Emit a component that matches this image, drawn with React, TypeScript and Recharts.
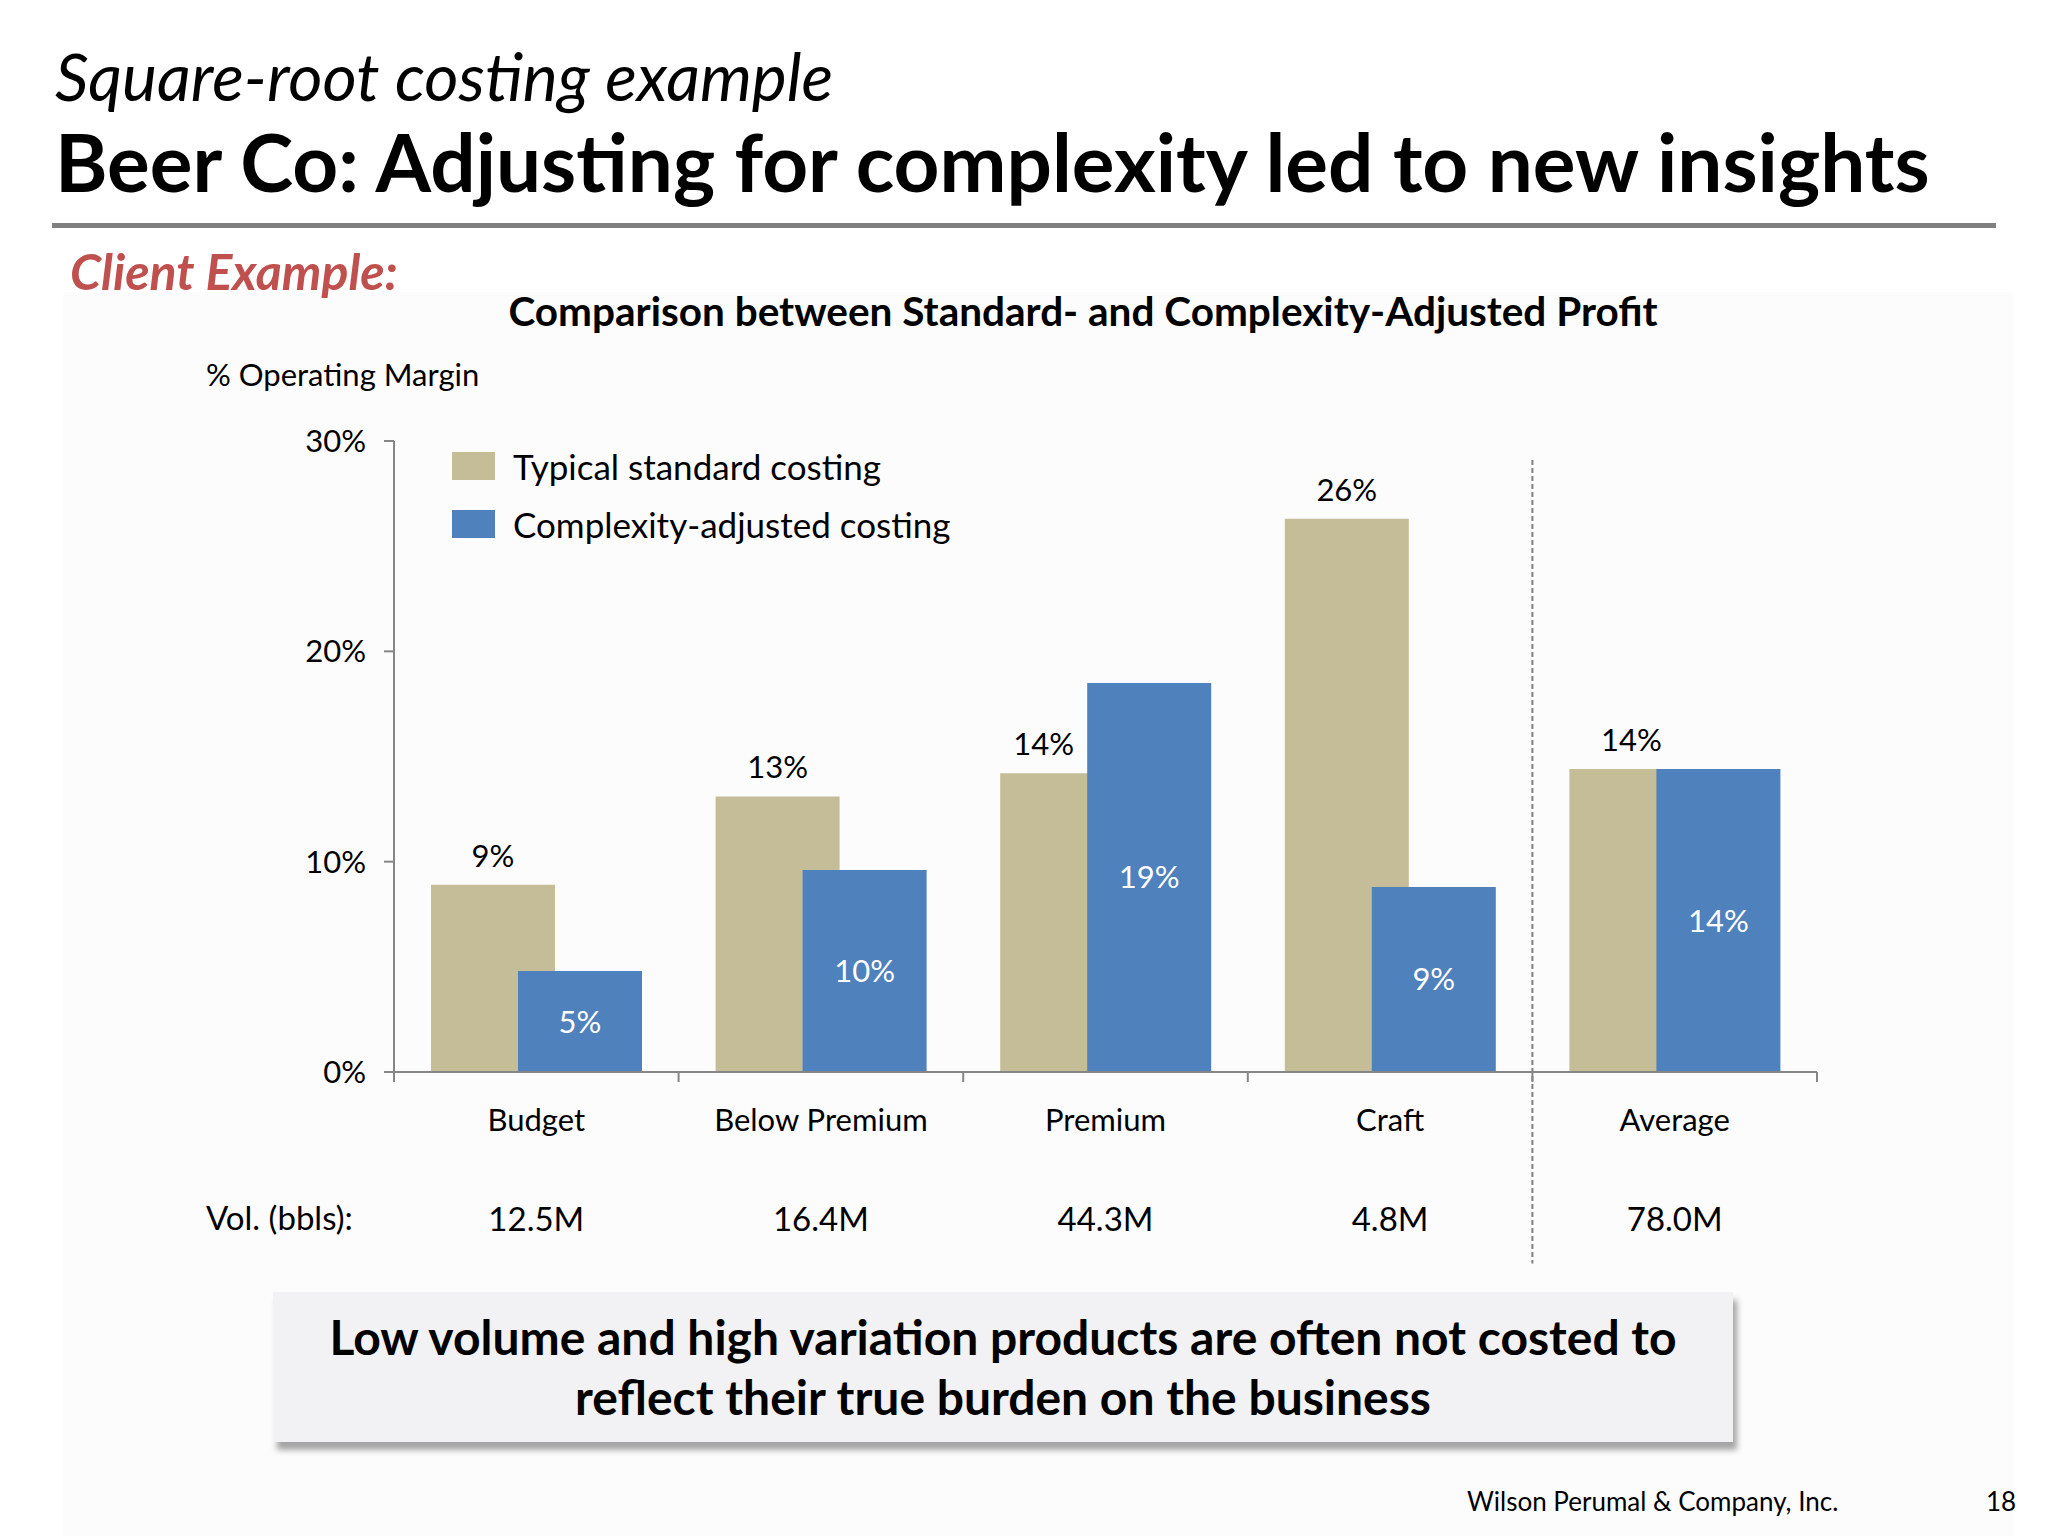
import { BarChart, Bar, XAxis, YAxis, LabelList, Legend, ReferenceLine } from "recharts";

const categories = ["Budget", "Below Premium", "Premium", "Craft", "Average"];
const standardMargin = [8.9, 13.1, 14.2, 26.3, 14.4];
const adjustedMargin = [4.8, 9.6, 18.5, 8.8, 14.4];
const volumes = ["12.5M", "16.4M", "44.3M", "4.8M", "78.0M"];
const yTicks = [0, 10, 20, 30];

const TAN = "#C4BD97";
const BLUE = "#4F81BD";
const AXIS = "#868686";
const FONT = "Lato, 'Open Sans', sans-serif";

// plot area in page pixels
const PLOT_LEFT = 394;
const PLOT_RIGHT = 1817;
const PLOT_TOP = 441;
const PLOT_BOTTOM = 1072;
const BAND = (PLOT_RIGHT - PLOT_LEFT) / categories.length;
const BAR_SIZE = 124;
const BAR_GAP = -37;

const data = categories.map((name, i) => ({
  name,
  standard: standardMargin[i],
  adjusted: adjustedMargin[i],
}));

const pct = (v: any) => `${Math.round(Number(v))}%`;

function CategoryTick(props: any) {
  const { x, y, payload, index } = props;
  const half = BAND / 2;
  return (
    <g>
      <line x1={x - half} x2={x - half} y1={y} y2={y + 10} stroke={AXIS} strokeWidth={2} />
      {index === categories.length - 1 && (
        <line x1={x + half} x2={x + half} y1={y} y2={y + 10} stroke={AXIS} strokeWidth={2} />
      )}
      <text x={x} y={y + 47} textAnchor="middle" dominantBaseline="central" fontSize={31} fill="#000" fontFamily={FONT}>
        {payload.value}
      </text>
      <text x={x} y={y + 146} textAnchor="middle" dominantBaseline="central" fontSize={33} fill="#000" fontFamily={FONT}>
        {volumes[index]}
      </text>
    </g>
  );
}

// label above the tan bar; when the blue bar next to it is taller, centre it on the visible part
function StandardLabel(props: any) {
  const { x, y, width, value, index } = props;
  const hidden = adjustedMargin[index] > standardMargin[index];
  const cx = hidden ? x + (width + BAR_GAP) / 2 : x + width / 2;
  return (
    <text x={cx} y={y - 18} textAnchor="middle" fontSize={31} fill="#000" fontFamily={FONT}>
      {pct(value)}
    </text>
  );
}

const legendOrder = ["standard", "adjusted"];

function LegendBox(props: any) {
  const items = [...(props.payload || [])].sort(
    (a: any, b: any) => legendOrder.indexOf(a.dataKey) - legendOrder.indexOf(b.dataKey)
  );
  return (
    <div style={{ fontFamily: FONT }}>
      {items.map((it: any) => (
        <div key={it.value} style={{ display: "flex", alignItems: "center", height: 58 }}>
          <div style={{ width: 43, height: 28, background: it.color, marginRight: 18 }} />
          <span style={{ fontSize: 35, color: "#000" }}>{it.value}</span>
        </div>
      ))}
    </div>
  );
}

const abs = (s: React.CSSProperties): React.CSSProperties => ({ position: "absolute", whiteSpace: "nowrap", lineHeight: 1, ...s });

export default function App() {
  return (
    <div style={{ position: "absolute", left: 0, top: 0, width: 2048, height: 1536, background: "#fff", fontFamily: FONT, overflow: "hidden" }}>
      <div style={{ position: "absolute", left: 63, top: 292, width: 1950, height: 1244, background: "#fcfcfd" }} />

      <div style={abs({ left: 55, top: 43, fontSize: 66, fontStyle: "italic" })}>Square-root costing example</div>
      <div style={abs({ left: 55, top: 121, fontSize: 80, fontWeight: 700 })}>
        Beer Co: Adjusting for complexity led to new insights
      </div>
      <div style={{ position: "absolute", left: 52, top: 223, width: 1944, height: 5, background: "#7F7F7F" }} />
      <div style={abs({ left: 70, top: 246, fontSize: 50, fontWeight: 700, fontStyle: "italic", color: "#C0504D" })}>
        Client Example:
      </div>
      <div style={abs({ left: 1083, top: 291, fontSize: 40.5, fontWeight: 700, transform: "translateX(-50%)" })}>
        Comparison between Standard- and Complexity-Adjusted Profit
      </div>
      <div style={abs({ left: 206, top: 359, fontSize: 31 })}>% Operating Margin</div>
      <div style={abs({ left: 206, top: 1201, fontSize: 33 })}>Vol. (bbls):</div>

      <div style={{ position: "absolute", left: 0, top: 0 }}>
        <BarChart
          width={2048}
          height={1536}
          data={data}
          barSize={BAR_SIZE}
          barGap={BAR_GAP}
          margin={{ top: PLOT_TOP, left: PLOT_LEFT - 100, right: 2048 - PLOT_RIGHT, bottom: 1536 - PLOT_BOTTOM - 220 }}
        >
          <XAxis
            dataKey="name"
            height={220}
            interval={0}
            tickLine={false}
            tickSize={0}
            tickMargin={0}
            axisLine={{ stroke: AXIS, strokeWidth: 2 }}
            tick={<CategoryTick />}
          />
          <YAxis
            width={100}
            domain={[0, 30]}
            ticks={yTicks}
            tickFormatter={(v) => `${v}%`}
            tickSize={10}
            tickMargin={18}
            axisLine={{ stroke: AXIS, strokeWidth: 2 }}
            tickLine={{ stroke: AXIS, strokeWidth: 2 }}
            tick={{ fontSize: 31, fill: "#000", fontFamily: FONT }}
          />
          <ReferenceLine
            segment={[{ x: "Average", y: 29.1 }, { x: "Average", y: -9.1 }]}
            position="start"
            ifOverflow="visible"
            stroke="#7F7F7F"
            strokeWidth={2}
            strokeDasharray="5 3"
          />
          <Legend
            layout="vertical"
            align="center"
            verticalAlign="middle"
            content={<LegendBox />}
            wrapperStyle={{ left: 452, top: 437, width: "auto" }}
          />
          <Bar dataKey="standard" name="Typical standard costing" fill={TAN} isAnimationActive={false}>
            <LabelList dataKey="standard" content={<StandardLabel />} />
          </Bar>
          <Bar dataKey="adjusted" name="Complexity-adjusted costing" fill={BLUE} isAnimationActive={false}>
            <LabelList dataKey="adjusted" position="center" formatter={pct} fill="#fff" fontSize={31} fontFamily={FONT} />
          </Bar>
        </BarChart>
      </div>

      <div
        style={{
          position: "absolute",
          left: 273,
          top: 1292,
          width: 1460,
          height: 150,
          background: "#F2F1F3",
          boxShadow: "4px 8px 6px rgba(0,0,0,0.35)",
          display: "flex",
          alignItems: "center",
          justifyContent: "center",
          textAlign: "center",
          fontSize: 48,
          fontWeight: 700,
          lineHeight: "60px",
        }}
      >
        <div>
          Low volume and high variation products are often not costed to
          <br />
          reflect their true burden on the business
        </div>
      </div>

      <div style={abs({ left: 1467, top: 1488, fontSize: 26 })}>Wilson Perumal &amp; Company, Inc.</div>
      <div style={abs({ left: 1986, top: 1488, fontSize: 26 })}>18</div>
    </div>
  );
}
